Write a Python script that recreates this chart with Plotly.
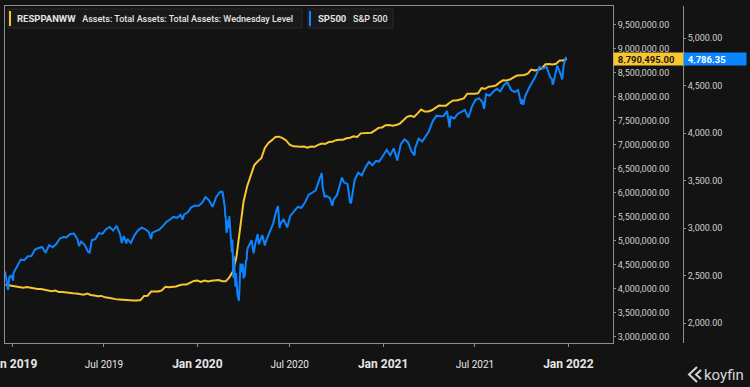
import pandas as pd
import plotly.graph_objects as go

# ---------------- data ----------------
fed_start = "2018-12-19"  # weekly (Wednesday) Fed total assets, millions USD
fed_values_tn = [
    4.085, 4.076,
    # 2019
    4.058, 4.051, 4.036, 4.027, 4.041, 4.022, 4.004, 3.998, 4.000, 3.986, 3.974, 3.954, 3.965,
    3.937, 3.935, 3.924, 3.927, 3.911, 3.907, 3.893, 3.881, 3.905, 3.874, 3.862, 3.848, 3.855,
    3.826, 3.818, 3.799, 3.788, 3.782, 3.774, 3.765, 3.760, 3.761, 3.761, 3.768, 3.855, 3.860,
    3.946, 3.945, 3.946, 3.970, 4.045, 4.037, 4.041, 4.052, 4.077, 4.095, 4.095, 4.135, 4.166,
    # 2020
    4.173, 4.148, 4.176, 4.158, 4.172, 4.175, 4.186, 4.159, 4.159, 4.241, 4.362, 4.666, 5.254,
    5.814, 6.132, 6.368, 6.573, 6.656, 6.720, 6.934, 7.037, 7.097, 7.165, 7.169, 7.140, 7.092,
    7.001, 6.968, 6.960, 6.959, 6.964, 6.942, 6.962, 6.959, 6.999, 7.028, 7.017, 7.057, 7.062,
    7.096, 7.104, 7.106, 7.135, 7.146, 7.175, 7.164, 7.238, 7.239, 7.240, 7.252, 7.301, 7.353,
    7.362,
    # 2021
    7.407, 7.413, 7.397, 7.414, 7.442, 7.510, 7.581, 7.605, 7.582, 7.655, 7.734, 7.693, 7.693,
    7.718, 7.770, 7.817, 7.815, 7.815, 7.875, 7.924, 7.923, 7.945, 7.966, 8.064, 8.059, 8.065,
    8.072, 8.179, 8.166, 8.209, 8.217, 8.234, 8.293, 8.342, 8.339, 8.358, 8.404, 8.441, 8.448,
    8.452, 8.483, 8.567, 8.549, 8.560, 8.595, 8.677, 8.680, 8.671, 8.686, 8.757, 8.757, 8.790495,
]

spx_dates = [
    "2018-12-18", "2018-12-19", "2018-12-20", "2018-12-21", "2018-12-24", "2018-12-26",
    "2018-12-27", "2018-12-28", "2018-12-31", "2019-01-03", "2019-01-04", "2019-01-11",
    "2019-01-18", "2019-01-25", "2019-02-01", "2019-02-08", "2019-02-15", "2019-02-22",
    "2019-03-01", "2019-03-08", "2019-03-15", "2019-03-22", "2019-03-29", "2019-04-05",
    "2019-04-12", "2019-04-18", "2019-04-26", "2019-05-03", "2019-05-10", "2019-05-13",
    "2019-05-17", "2019-05-24", "2019-05-31", "2019-06-03", "2019-06-07", "2019-06-14",
    "2019-06-21", "2019-06-28", "2019-07-05", "2019-07-12", "2019-07-19", "2019-07-26",
    "2019-08-02", "2019-08-05", "2019-08-09", "2019-08-14", "2019-08-16", "2019-08-23",
    "2019-08-30", "2019-09-06", "2019-09-13", "2019-09-20", "2019-09-27", "2019-10-02",
    "2019-10-04", "2019-10-11", "2019-10-18", "2019-10-25", "2019-11-01", "2019-11-08",
    "2019-11-15", "2019-11-22", "2019-11-29", "2019-12-03", "2019-12-06", "2019-12-13",
    "2019-12-20", "2019-12-27", "2020-01-03", "2020-01-10", "2020-01-17", "2020-01-24",
    "2020-01-31", "2020-02-07", "2020-02-14", "2020-02-19", "2020-02-20", "2020-02-21",
    "2020-02-24", "2020-02-25", "2020-02-26", "2020-02-27", "2020-02-28", "2020-03-02",
    "2020-03-03", "2020-03-04", "2020-03-05", "2020-03-06", "2020-03-09", "2020-03-10",
    "2020-03-11", "2020-03-12", "2020-03-13", "2020-03-16", "2020-03-17", "2020-03-18",
    "2020-03-19", "2020-03-20", "2020-03-23", "2020-03-24", "2020-03-25", "2020-03-26",
    "2020-03-27", "2020-03-30", "2020-03-31", "2020-04-01", "2020-04-02", "2020-04-03",
    "2020-04-06", "2020-04-07", "2020-04-08", "2020-04-09", "2020-04-17", "2020-04-21",
    "2020-04-24", "2020-04-29", "2020-05-01", "2020-05-08", "2020-05-13", "2020-05-15",
    "2020-05-22", "2020-05-29", "2020-06-05", "2020-06-08", "2020-06-11", "2020-06-12",
    "2020-06-19", "2020-06-26", "2020-07-02", "2020-07-10", "2020-07-17", "2020-07-24",
    "2020-07-31", "2020-08-07", "2020-08-14", "2020-08-21", "2020-08-28", "2020-09-02",
    "2020-09-04", "2020-09-08", "2020-09-11", "2020-09-18", "2020-09-23", "2020-09-25",
    "2020-10-02", "2020-10-09", "2020-10-12", "2020-10-16", "2020-10-23", "2020-10-28",
    "2020-10-30", "2020-11-06", "2020-11-13", "2020-11-20", "2020-11-27", "2020-12-04",
    "2020-12-11", "2020-12-18", "2020-12-24", "2020-12-31", "2021-01-08", "2021-01-15",
    "2021-01-22", "2021-01-29", "2021-02-05", "2021-02-12", "2021-02-19", "2021-02-26",
    "2021-03-04", "2021-03-05", "2021-03-12", "2021-03-19", "2021-03-26", "2021-04-01",
    "2021-04-09", "2021-04-16", "2021-04-23", "2021-04-30", "2021-05-07", "2021-05-12",
    "2021-05-14", "2021-05-21", "2021-05-28", "2021-06-04", "2021-06-11", "2021-06-18",
    "2021-06-25", "2021-07-02", "2021-07-09", "2021-07-16", "2021-07-19", "2021-07-23",
    "2021-07-30", "2021-08-06", "2021-08-13", "2021-08-20", "2021-08-27", "2021-09-03",
    "2021-09-10", "2021-09-17", "2021-09-24", "2021-09-30", "2021-10-01", "2021-10-04",
    "2021-10-08", "2021-10-15", "2021-10-22", "2021-10-29", "2021-11-05", "2021-11-12",
    "2021-11-19", "2021-11-26", "2021-11-30", "2021-12-01", "2021-12-03", "2021-12-10",
    "2021-12-17", "2021-12-20", "2021-12-23", "2021-12-27", "2021-12-28",
]
spx_values = [
    2545.94, 2506.96, 2467.42, 2416.62, 2351.10, 2467.70,
    2488.83, 2485.74, 2506.85, 2447.89, 2531.94, 2596.26,
    2670.71, 2664.76, 2706.53, 2707.88, 2775.60, 2792.67,
    2803.69, 2743.07, 2822.48, 2800.71, 2834.40, 2892.74,
    2907.41, 2905.03, 2939.88, 2945.64, 2881.40, 2811.87,
    2859.53, 2826.06, 2752.06, 2744.45, 2873.34, 2886.98,
    2950.46, 2941.76, 2990.41, 3013.77, 2976.61, 3025.86,
    2932.05, 2844.74, 2918.65, 2840.60, 2888.68, 2847.11,
    2926.46, 2978.71, 3007.39, 2992.07, 2961.79, 2887.61,
    2952.01, 2970.27, 2986.20, 3022.55, 3066.91, 3093.08,
    3120.46, 3110.29, 3140.98, 3093.20, 3145.91, 3168.80,
    3221.22, 3240.02, 3234.85, 3265.35, 3329.62, 3295.47,
    3225.52, 3327.71, 3380.16, 3386.15, 3373.23, 3337.75,
    3225.89, 3128.21, 3116.39, 2978.76, 2954.22, 3090.23,
    3003.37, 3130.12, 3023.94, 2972.37, 2746.56, 2882.23,
    2741.38, 2480.64, 2711.02, 2386.13, 2529.19, 2398.10,
    2409.39, 2304.92, 2237.40, 2447.33, 2475.56, 2630.07,
    2541.47, 2626.65, 2584.59, 2470.50, 2526.90, 2488.65,
    2663.68, 2659.41, 2749.98, 2789.82, 2874.56, 2736.56,
    2836.74, 2939.51, 2830.71, 2929.80, 2820.00, 2863.70,
    2955.45, 3044.31, 3193.93, 3232.39, 3002.10, 3041.31,
    3097.74, 3009.05, 3130.01, 3185.04, 3224.73, 3215.63,
    3271.12, 3351.28, 3372.85, 3397.16, 3508.01, 3580.84,
    3426.96, 3331.84, 3340.97, 3319.47, 3236.92, 3298.46,
    3348.42, 3477.13, 3534.22, 3483.81, 3465.39, 3271.03,
    3269.96, 3509.44, 3585.15, 3557.54, 3638.35, 3699.12,
    3663.46, 3709.41, 3703.06, 3756.07, 3824.68, 3768.25,
    3841.47, 3714.24, 3886.83, 3934.83, 3906.71, 3811.15,
    3768.47, 3841.94, 3943.34, 3913.10, 3974.54, 4019.87,
    4128.80, 4185.47, 4180.17, 4181.17, 4232.60, 4063.04,
    4173.85, 4155.86, 4204.11, 4229.89, 4247.44, 4166.45,
    4280.70, 4352.34, 4369.55, 4327.16, 4258.49, 4411.79,
    4395.26, 4436.52, 4468.00, 4441.67, 4509.37, 4535.43,
    4458.58, 4432.99, 4455.48, 4307.54, 4357.04, 4300.46,
    4391.34, 4471.37, 4544.90, 4605.38, 4697.53, 4682.85,
    4697.96, 4594.62, 4567.00, 4513.04, 4538.43, 4712.02,
    4620.64, 4568.02, 4725.79, 4791.19, 4786.35,
]

x_tick_dates = ["2019-01-01", "2019-07-01", "2020-01-01", "2020-07-01",
                "2021-01-01", "2021-07-01", "2022-01-01"]
x_tick_labels = ["Jan 2019", "Jul 2019", "Jan 2020", "Jul 2020",
                 "Jan 2021", "Jul 2021", "Jan 2022"]
left_ticks = [3000000, 3500000, 4000000, 4500000, 5000000, 5500000, 6000000, 6500000,
              7000000, 7500000, 8000000, 8500000, 9000000, 9500000]
right_ticks = [2000, 2500, 3000, 3500, 4000, 4500, 5000]

fed_code, fed_name = "RESPPANWW", "Assets: Total Assets: Total Assets: Wednesday Level"
spx_code, spx_name = "SP500", "S&P 500"
fed_last_label = "8,790,495.00"
spx_last_label = "4,786.35"

# ---------------- styling ----------------
BG = "#131313"
AXIS = "#8e8e8e"
YEL = "#f7c631"
BLU = "#0a84ff"
FONT = "Roboto"

W, H = 750, 387
ML, MR, MT, MB = 5, 5, 6, 44
PW, PH = W - ML - MR, H - MT - MB


def px(x):
    return (x - ML) / PW


def py(y):
    return (H - MB - y) / PH


fed_dates = pd.date_range(fed_start, periods=len(fed_values_tn), freq="7D")
fed_values = [v * 1e6 for v in fed_values_tn]

fig = go.Figure()
fig.add_trace(go.Scatter(x=fed_dates, y=fed_values, mode="lines",
                         line=dict(color=YEL, width=2), yaxis="y", showlegend=False))
fig.add_trace(go.Scatter(x=pd.to_datetime(spx_dates), y=spx_values, mode="lines",
                         line=dict(color=BLU, width=2), yaxis="y2", showlegend=False))

ticktext = []
for lab in x_tick_labels:
    if lab.startswith("Jan"):
        ticktext.append(f"<b><span style='font-size:12px'>{lab}</span></b>")
    else:
        ticktext.append(f"<span style='font-size:10px'>{lab}</span>")

x_right_edge = 613
fig.update_layout(
    width=W, height=H,
    margin=dict(l=ML, r=MR, t=MT, b=MB, pad=0, autoexpand=False),
    paper_bgcolor=BG, plot_bgcolor=BG,
    font=dict(family=FONT, color="#d2d2d2", size=10),
    showlegend=False,
    xaxis=dict(
        domain=[0, px(x_right_edge)],
        type="date", automargin=False,
        range=["2018-12-18", "2022-03-30"],
        tickvals=x_tick_dates, ticktext=ticktext,
        tickfont=dict(color="#e6e6e6", size=10),
        ticks="outside", ticklen=3, tickcolor=AXIS,
        ticklabeloverflow="allow", ticklabelstandoff=9,
        showline=True, linecolor=AXIS, linewidth=1, mirror=True,
        showgrid=False, zeroline=False,
    ),
    yaxis=dict(
        side="right", anchor="x", automargin=False,
        range=[2.875e6, 9.889e6],
        tickvals=left_ticks, tickformat=",.2f",
        tickfont=dict(size=9, color="#cfcfcf"),
        ticks="outside", ticklen=2, tickcolor=AXIS,
        showline=True, linecolor=AXIS, linewidth=1, mirror=True,
        showgrid=False, zeroline=False,
    ),
    yaxis2=dict(
        overlaying="y", side="right", anchor="free", position=px(683), automargin=False,
        range=[1793, 5340],
        tickvals=right_ticks, tickformat=",.2f",
        tickfont=dict(size=9, color="#cfcfcf"),
        ticks="outside", ticklen=2, tickcolor=AXIS,
        showline=True, linecolor=AXIS, linewidth=1,
        showgrid=False, zeroline=False,
    ),
)

shapes = []
# legend boxes
shapes.append(dict(type="rect", xref="paper", yref="paper", x0=px(8), x1=px(302), y0=py(28), y1=py(9),
                   fillcolor="#191919", line=dict(color="#2a2a2a", width=1), layer="above"))
shapes.append(dict(type="rect", xref="paper", yref="paper", x0=px(308), x1=px(393), y0=py(28), y1=py(9),
                   fillcolor="#191919", line=dict(color="#2a2a2a", width=1), layer="above"))
shapes.append(dict(type="rect", xref="paper", yref="paper", x0=px(9), x1=px(11), y0=py(26), y1=py(11),
                   fillcolor=YEL, line=dict(width=0), layer="above"))
shapes.append(dict(type="rect", xref="paper", yref="paper", x0=px(309), x1=px(311), y0=py(26), y1=py(11),
                   fillcolor=BLU, line=dict(width=0), layer="above"))
# koyfin logo chevrons
shapes.append(dict(type="path", xref="paper", yref="paper",
                   path=f"M {px(697)},{py(367)} L {px(689)},{py(374.5)} L {px(697)},{py(382)}",
                   line=dict(color="#d6d6d6", width=2)))
shapes.append(dict(type="path", xref="paper", yref="paper",
                   path=f"M {px(701)},{py(370)} L {px(696)},{py(374.5)} L {px(701)},{py(379)}",
                   line=dict(color="#d6d6d6", width=2)))
fig.update_layout(shapes=shapes)

ann = []
ann.append(dict(xref="paper", yref="paper", x=px(15), y=py(18.5), xanchor="left", yanchor="middle",
                showarrow=False,
                text=f"<b><span style='font-size:9.5px'>{fed_code}</span></b>&nbsp;&nbsp;&nbsp;{fed_name}",
                font=dict(size=9, color="#e4e4e4", family=FONT, weight=500)))
ann.append(dict(xref="paper", yref="paper", x=px(316), y=py(18.5), xanchor="left", yanchor="middle",
                showarrow=False,
                text=f"<b><span style='font-size:9.5px'>{spx_code}</span></b>&nbsp;&nbsp;&nbsp;{spx_name}",
                font=dict(size=9, color="#e4e4e4", family=FONT, weight=500)))
# last value labels
ann.append(dict(xref="paper", yref="y", x=px(613), y=fed_values[-1], xanchor="left", yanchor="middle",
                showarrow=False, text=f"&nbsp;<b>{fed_last_label}</b>", bgcolor=YEL,
                width=67, height=9, align="left", borderpad=1.5,
                font=dict(size=9.5, color="#1a1a1a", family=FONT)))
ann.append(dict(xref="paper", yref="y2", x=px(683), y=spx_values[-1], xanchor="left", yanchor="middle",
                showarrow=False, text=f"&nbsp;<b>{spx_last_label}</b>", bgcolor=BLU,
                width=59, height=9, align="left", borderpad=1.5,
                font=dict(size=9.5, color="#ffffff", family=FONT)))
# koyfin wordmark
ann.append(dict(xref="paper", yref="paper", x=px(746), y=py(375), xanchor="right", yanchor="middle",
                showarrow=False, text="koyfin",
                font=dict(size=15, color="#d6d6d6", family=FONT)))
fig.update_layout(annotations=ann)

fig.write_html("out.html", config={"displayModeBar": False},
               post_script="document.body.style.margin='0';document.body.style.overflow='hidden';")
